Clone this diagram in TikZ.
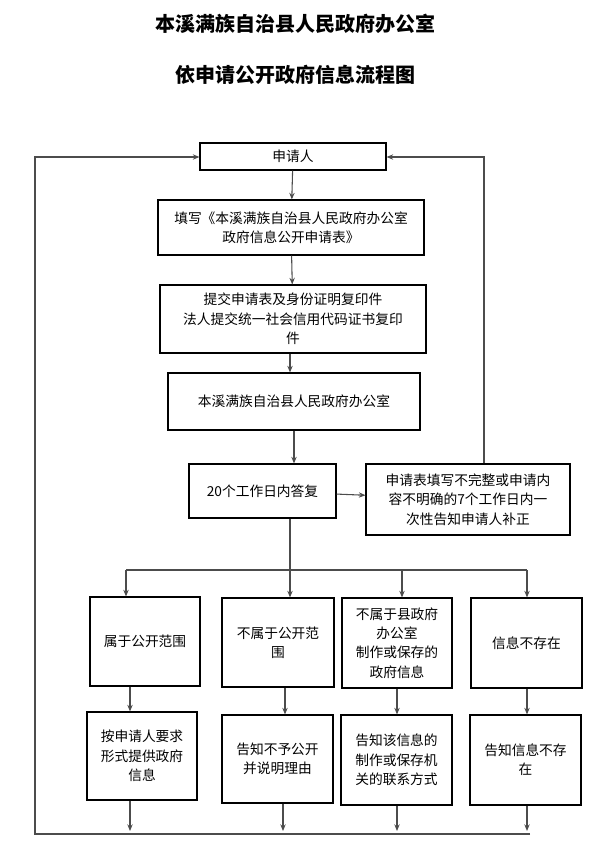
\documentclass[tikz,border=0pt]{standalone}
\usepackage{fontspec}
\newfontfamily\cjk{Noto Sans CJK SC}
\usetikzlibrary{arrows.meta}
\begin{document}
\begin{tikzpicture}[x=0.75pt,y=-0.75pt,
  box/.style={draw,line width=0.8pt,align=center,inner sep=1pt,font=\cjk\fontsize{10.3}{14.5}\selectfont},
  arr/.style={draw=black!70,line width=0.8pt,-{Stealth[length=5pt,width=4pt]}},
  ln/.style={draw=black!70,line width=0.8pt}]
\useasboundingbox (0,0) rectangle (610,850);
\newcommand{\bx}[6]{%
  \pgfmathsetmacro{\bxw}{(#4-#2)*0.75}%
  \pgfmathsetmacro{\bxh}{(#5-#3)*0.75}%
  \node[box,minimum width=\bxw pt,minimum height=\bxh pt] (#1) at ({(#2+#4)/2},{(#3+#5)/2}) {#6};}
\node[font=\cjk\bfseries\fontsize{15}{18}\selectfont] (t1) at (295,24) {本溪满族自治县人民政府办公室};
\node[font=\cjk\bfseries\fontsize{15}{18}\selectfont] (t2) at (295,75) {依申请公开政府信息流程图};
\bx{a}{200}{143}{386}{170}{申请人}
\bx{b}{158}{200}{424}{255}{填写《本溪满族自治县人民政府办公室\\政府信息公开申请表》}
\bx{c}{160}{285}{426}{353}{提交申请表及身份证明复印件\\法人提交统一社会信用代码证书复印\\件}
\bx{d}{168}{373}{420}{430}{本溪满族自治县人民政府办公室}
\bx{e}{189}{464}{336}{518}{20个工作日内答复}
\bx{f}{366}{464}{570}{535}{申请表填写不完整或申请内\\容不明确的7个工作日内一\\次性告知申请人补正}
\bx{g1}{90}{597}{200}{686}{属于公开范围}
\bx{g2}{222}{598}{334}{687}{不属于公开范\\围}
\bx{g3}{342}{598}{452}{688}{不属于县政府\\办公室\\制作或保存的\\政府信息}
\bx{g4}{471}{598}{582}{688}{信息不存在}
\bx{h1}{87}{712}{197}{800}{按申请人要求\\形式提供政府\\信息}
\bx{h2}{222}{715}{333}{803}{告知不予公开\\并说明理由}
\bx{h3}{341}{715}{452}{805}{告知该信息的\\制作或保存机\\关的联系方式}
\bx{h4}{470}{715}{581}{805}{告知信息不存\\在}
\draw[arr] (a) -- (b);
\draw[arr] (b) -- (c);
\draw[arr] (c.south -| 290,0) -- (d.north -| 290,0);
\draw[arr] (d) -- (e.north -| d);
\draw[arr] (e) -- (f);
\draw[arr] (f.north -| 484,0) -- (484,157) -- (a.east |- 0,157);
\coordinate (s) at (290,570);
\draw[ln] (e.south -| s) -- (s);
\draw[ln] (126,570) -- (527,570);
\draw[arr] (126,570) -- (g1.north -| 126,0);
\draw[arr] (s) -- (g2.north -| s);
\draw[arr] (402,570) -- (g3.north -| 402,0);
\draw[arr] (527,570) -- (g4.north -| 527,0);
\draw[arr] (g1.south -| 130,0) -- (h1.north -| 130,0);
\draw[arr] (g2.south -| 285,0) -- (h2.north -| 285,0);
\draw[arr] (g3.south -| 397,0) -- (h3.north -| 397,0);
\draw[arr] (g4.south -| 527,0) -- (h4.north -| 527,0);
\draw[arr] (h1.south -| 130,0) -- (130,831);
\draw[arr] (h2.south -| 283,0) -- (283,831);
\draw[arr] (h3.south -| 397,0) -- (397,831);
\draw[arr] (h4.south -| 527,0) -- (527,831);
\draw[arr] (530,834) -- (35,834) -- (35,157) -- (a.west |- 0,157);
\end{tikzpicture}
\end{document}
